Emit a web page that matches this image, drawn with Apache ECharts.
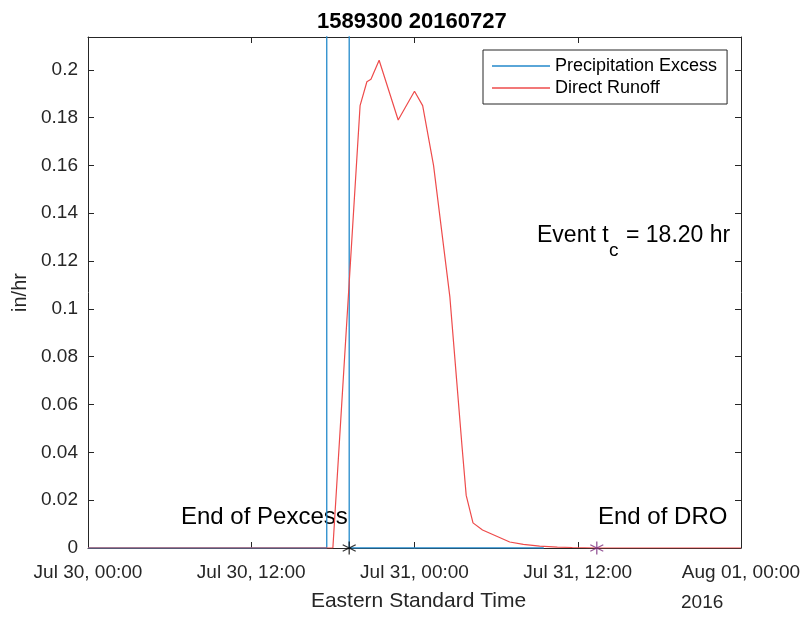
<!DOCTYPE html>
<html>
<head>
<meta charset="utf-8">
<script src="https://cdn.jsdelivr.net/npm/echarts@6/dist/echarts.min.js"></script>
<style>html,body{margin:0;padding:0;background:#fff}#c{width:809px;height:617px}</style>
</head>
<body>
<div id="c"></div>
<script>
// hours since Jul 30, 2016 00:00 EST
const xTickValues = [0, 12, 24, 36, 48];
const xTickLabels = ['Jul 30, 00:00', 'Jul 30, 12:00', 'Jul 31, 00:00', 'Jul 31, 12:00', 'Aug 01, 00:00'];
const yTickValues = [0, 0.02, 0.04, 0.06, 0.08, 0.1, 0.12, 0.14, 0.16, 0.18, 0.2];

const pexTime  = [0, 17.55, 17.55, 19.2, 19.2, 33.5];
const pexValue = [0, 0, 0.6, 0.6, 0, 0];

const droTime  = [0, 18.0, 20.0, 20.5, 20.8, 21.4, 22.8, 24.0, 24.6, 25.4, 26.6, 27.1, 27.5, 27.8, 28.3, 29.0, 30.0, 31.0, 32.0, 33.2, 34.5, 35.6, 37.4, 48];
const droValue = [0, 0, 0.185, 0.195, 0.196, 0.204, 0.179, 0.191, 0.185, 0.160, 0.105, 0.070, 0.042, 0.022, 0.0105, 0.0075, 0.005, 0.0025, 0.0015, 0.0008, 0.0004, 0.0002, 0, 0];

const endPexcess = [19.2, 0];
const endDRO = [37.4, 0];
const eventTc = '18.20';

const FONT = "'Liberation Sans', Arial, Helvetica, sans-serif";
const zip = (a, b) => a.map((v, i) => [v, b[i]]);
const starPath = 'path://M0,-10L0,10M-8.66,-5L8.66,5M-8.66,5L8.66,-5';

const chart = echarts.init(document.getElementById('c'), null, {renderer: 'canvas'});
const axisCommon = {
  axisLine: {show: true, onZero: false, lineStyle: {color: '#262626', width: 1}},
  axisTick: {show: true, inside: true, length: 6, lineStyle: {color: '#262626'}},
  splitLine: {show: false}
};
chart.setOption({
  animation: false,
  backgroundColor: '#fff',
  title: {text: '1589300 20160727', left: 312, top: 6,
    textStyle: {fontFamily: FONT, fontSize: 22, fontWeight: 'bold', color: '#000'}},
  grid: {left: 88, right: 68, top: 37, bottom: 60, containLabel: false},
  legend: {
    data: [{name: 'Precipitation Excess', icon: 'rect'}, {name: 'Direct Runoff', icon: 'rect'}],
    orient: 'vertical', left: 483, top: 50,
    padding: [6, 10, 6, 9], itemGap: 2, itemWidth: 58, itemHeight: 1.5,
    borderColor: '#262626', borderWidth: 1, backgroundColor: '#fff',
    textStyle: {fontFamily: FONT, fontSize: 18, color: '#000', lineHeight: 20}
  },
  xAxis: [
    Object.assign({}, axisCommon, {
      type: 'value', min: 0, max: 48, interval: 12,
      name: 'Eastern Standard Time', nameLocation: 'middle', nameGap: 43,
      nameTextStyle: {fontFamily: FONT, fontSize: 21, color: '#262626', padding: [0, 0, 0, 8]},
      axisLabel: {fontFamily: FONT, fontSize: 19, color: '#262626', margin: 15,
        formatter: v => { const i = xTickValues.indexOf(v); return i >= 0 ? xTickLabels[i] : ''; }}
    }),
    Object.assign({}, axisCommon, {
      type: 'value', min: 0, max: 48, interval: 12, position: 'top',
      axisLabel: {show: false}
    })
  ],
  yAxis: [
    Object.assign({}, axisCommon, {
      type: 'value', min: 0, max: 0.2137, interval: 0.02,
      name: 'in/hr', nameLocation: 'middle', nameGap: 58, nameRotate: 90,
      nameTextStyle: {fontFamily: FONT, fontSize: 20, color: '#262626'},
      axisLabel: {fontFamily: FONT, fontSize: 19, color: '#262626', margin: 10,
        formatter: v => { const t = yTickValues.find(y => Math.abs(y - v) < 1e-6); return t === undefined ? '' : String(t); }}
    }),
    Object.assign({}, axisCommon, {
      type: 'value', min: 0, max: 0.2137, interval: 0.02, position: 'right',
      axisLabel: {show: false}
    })
  ],
  series: [
    {name: 'Precipitation Excess', type: 'line', data: zip(pexTime, pexValue),
      symbol: 'none', clip: true, lineStyle: {color: '#2389cb', width: 1.3}, itemStyle: {color: '#2389cb'}, z: 2},
    {name: 'Direct Runoff', type: 'line', data: zip(droTime, droValue),
      symbol: 'none', clip: true, lineStyle: {color: '#ee4b4b', width: 1.2}, itemStyle: {color: '#ee4b4b'}, z: 3},
    {name: 'endPex', type: 'scatter', data: [endPexcess], symbol: starPath, symbolSize: 13,
      itemStyle: {color: 'rgba(0,0,0,0)', borderColor: '#000', borderWidth: 1.3}, z: 5, clip: false},
    {name: 'endDro', type: 'scatter', data: [endDRO], symbol: starPath, symbolSize: 13,
      itemStyle: {color: 'rgba(0,0,0,0)', borderColor: '#7b2d7e', borderWidth: 1.3}, z: 5, clip: false}
  ],
  graphic: [
    {type: 'text', left: 181, top: 505, style: {text: 'End of Pexcess', font: '24px ' + FONT, fill: '#000'}},
    {type: 'text', left: 598, top: 505, style: {text: 'End of DRO', font: '24px ' + FONT, fill: '#000'}},
    {type: 'text', left: 537, top: 224, style: {text: 'Event t', font: '23px ' + FONT, fill: '#000'}},
    {type: 'text', left: 609, top: 241, style: {text: 'c', font: '19px ' + FONT, fill: '#000'}},
    {type: 'text', left: 626, top: 224, style: {text: '= ' + eventTc + ' hr', font: '23px ' + FONT, fill: '#000'}},
    {type: 'text', left: 681, top: 593, style: {text: '2016', font: '19px ' + FONT, fill: '#262626'}}
  ]
});
</script>
</body>
</html>
